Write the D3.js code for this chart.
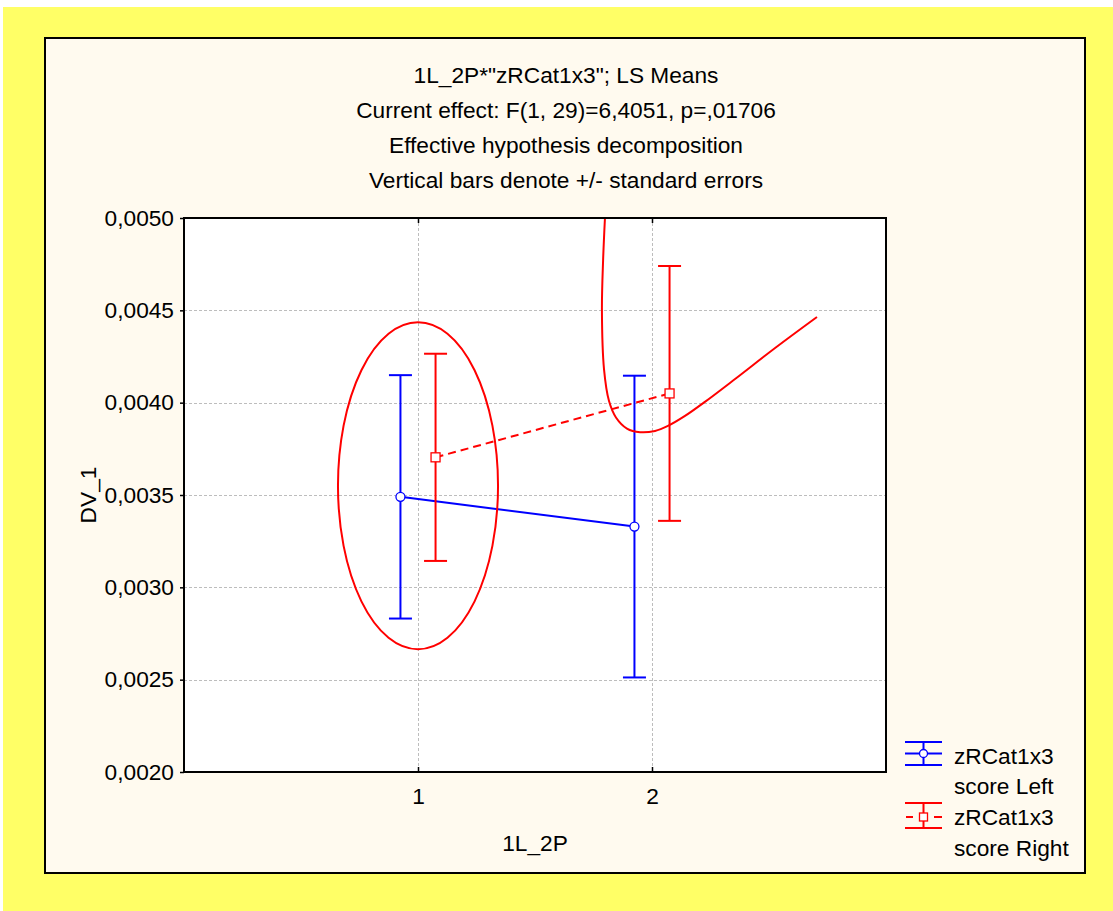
<!DOCTYPE html>
<html>
<head>
<meta charset="utf-8">
<script src="https://cdn.jsdelivr.net/npm/d3@7"></script>
<style>
  body { margin: 0; background: #ffffff; }
  svg text { font-family: Arial, "Liberation Sans", sans-serif; fill: #000; }
</style>
</head>
<body>
<svg id="chart" width="1113" height="911"></svg>

<script>
// ---- data ----
var categories   = [1, 2];
var leftMeans    = [0.003490, 0.003329];
var leftErrors   = [0.000659, 0.000817];
var rightMeans   = [0.003704, 0.004050];
var rightErrors  = [0.000561, 0.000690];
var yTicks       = [0.0020, 0.0025, 0.0030, 0.0035, 0.0040, 0.0045, 0.0050];
var titleLines   = [
  '1L_2P*"zRCat1x3"; LS Means',
  'Current effect: F(1, 29)=6,4051, p=,01706',
  'Effective hypothesis decomposition',
  'Vertical bars denote +/- standard errors'
];
var legendLeft   = ["zRCat1x3", "score Left"];
var legendRight  = ["zRCat1x3", "score Right"];

// hand drawn red marks, in data units
var ringCenter   = [1.0, 0.00355];
var ringRadii    = [0.342, 0.000885];
var hookPoints   = [
  [1.799, 0.00500], [1.791, 0.00477], [1.786, 0.00450], [1.795, 0.00418],
  [1.816, 0.00401], [1.846, 0.00392], [1.893, 0.00386], [1.949, 0.00384],
  [2.013, 0.003847], [2.068, 0.003874], [2.141, 0.003928], [2.226, 0.004004],
  [2.355, 0.004128], [2.526, 0.004296], [2.705, 0.004464]
];

var svg = d3.select("#chart");
var fs = 22.7;

// page frame
svg.append("rect").attr("x", 3).attr("y", 7).attr("width", 1110).attr("height", 904)
   .attr("fill", "#ffff66");
svg.append("rect").attr("x", 45).attr("y", 38).attr("width", 1040).attr("height", 835)
   .attr("fill", "#fffaef").attr("stroke", "#000").attr("stroke-width", 2);

var pLeft = 184, pRight = 886, pTop = 218, pBottom = 772;

var x = d3.scaleLinear().domain([0, 3]).range([pLeft, pRight]);
var y = d3.scaleLinear().domain([0.002, 0.005]).range([pBottom, pTop]);

var fmt = d3.formatLocale({decimal: ",", thousands: ".", grouping: [3], currency: ["", ""]}).format(".4f");

// titles
svg.selectAll("text.title")
  .data(titleLines)
  .enter().append("text")
    .attr("class", "title")
    .attr("x", 566)
    .attr("y", function(d, i) { return 83 + i * 35; })
    .attr("text-anchor", "middle")
    .attr("font-size", fs)
    .text(function(d) { return d; });

// plot background
svg.append("rect").attr("x", pLeft).attr("y", pTop)
   .attr("width", pRight - pLeft).attr("height", pBottom - pTop)
   .attr("fill", "#ffffff");

svg.append("clipPath").attr("id", "plotclip")
  .append("rect").attr("x", pLeft).attr("y", pTop)
   .attr("width", pRight - pLeft).attr("height", pBottom - pTop);

// grid
var grid = svg.append("g").attr("stroke", "#bdbdbd").attr("stroke-width", 1)
   .attr("stroke-dasharray", "3,2");
grid.selectAll("line.h")
  .data(yTicks.slice(1, -1))
  .enter().append("line")
    .attr("x1", pLeft).attr("x2", pRight)
    .attr("y1", function(d) { return Math.round(y(d)) + 0.5; })
    .attr("y2", function(d) { return Math.round(y(d)) + 0.5; });
grid.selectAll("line.v")
  .data(categories)
  .enter().append("line")
    .attr("y1", pTop).attr("y2", pBottom)
    .attr("x1", function(d) { return Math.round(x(d)) + 0.5; })
    .attr("x2", function(d) { return Math.round(x(d)) + 0.5; });

// axes
var yAxis = svg.append("g")
  .attr("transform", "translate(" + pLeft + ",0)")
  .call(d3.axisLeft(y).tickValues(yTicks).tickFormat(fmt).tickSize(4).tickPadding(6));
yAxis.select(".domain").remove();
yAxis.attr("font-size", fs).attr("font-family", null);
yAxis.selectAll("line").attr("stroke-width", 1.5);

var xAxis = svg.append("g")
  .attr("transform", "translate(0," + pBottom + ")")
  .call(d3.axisBottom(x).tickValues(categories).tickFormat(d3.format("d")).tickSize(-5).tickPadding(16));
xAxis.select(".domain").remove();
xAxis.attr("font-size", fs).attr("font-family", null);
xAxis.selectAll("line").attr("stroke-width", 1.5);

var xAxisTop = svg.append("g")
  .attr("transform", "translate(0," + pTop + ")")
  .call(d3.axisTop(x).tickValues(categories).tickFormat("").tickSize(-5));
xAxisTop.select(".domain").remove();
xAxisTop.selectAll("line").attr("stroke-width", 1.5);

svg.append("text")
  .attr("x", (pLeft + pRight) / 2).attr("y", 851)
  .attr("text-anchor", "middle").attr("font-size", fs)
  .text("1L_2P");

svg.append("text")
  .attr("transform", "translate(96," + (pTop + pBottom) / 2 + ") rotate(-90)")
  .attr("text-anchor", "middle").attr("font-size", fs)
  .text("DV_1");

// series
var offset = 0.075;
var capHalf = 11.5;

function drawSeries(means, errors, dx, color, dashed, marker) {
  var pts = categories.map(function(c, i) {
    return {x: c + dx, m: means[i], e: errors[i]};
  });
  var g = svg.append("g");

  g.append("path")
    .datum(pts)
    .attr("fill", "none")
    .attr("stroke", color)
    .attr("stroke-width", 2)
    .attr("stroke-dasharray", dashed ? "8,5" : null)
    .attr("d", d3.line().x(function(d) { return x(d.x); }).y(function(d) { return y(d.m); }));

  var bars = g.selectAll("g.bar").data(pts).enter().append("g")
    .attr("stroke", color).attr("stroke-width", 2);
  bars.append("line")
    .attr("x1", function(d) { return x(d.x); }).attr("x2", function(d) { return x(d.x); })
    .attr("y1", function(d) { return y(d.m + d.e); }).attr("y2", function(d) { return y(d.m - d.e); });
  bars.append("line")
    .attr("x1", function(d) { return x(d.x) - capHalf; }).attr("x2", function(d) { return x(d.x) + capHalf; })
    .attr("y1", function(d) { return y(d.m + d.e); }).attr("y2", function(d) { return y(d.m + d.e); });
  bars.append("line")
    .attr("x1", function(d) { return x(d.x) - capHalf; }).attr("x2", function(d) { return x(d.x) + capHalf; })
    .attr("y1", function(d) { return y(d.m - d.e); }).attr("y2", function(d) { return y(d.m - d.e); });

  if (marker == "circle") {
    g.selectAll("circle").data(pts).enter().append("circle")
      .attr("cx", function(d) { return x(d.x); })
      .attr("cy", function(d) { return y(d.m); })
      .attr("r", 4.5)
      .attr("fill", "#fff").attr("stroke", color).attr("stroke-width", 1.3);
  } else {
    g.selectAll("rect").data(pts).enter().append("rect")
      .attr("x", function(d) { return x(d.x) - 4.5; })
      .attr("y", function(d) { return y(d.m) - 4.5; })
      .attr("width", 9).attr("height", 9)
      .attr("fill", "#fff").attr("stroke", color).attr("stroke-width", 1.3);
  }
}

drawSeries(leftMeans, leftErrors, -offset, "#0000ff", false, "circle");
drawSeries(rightMeans, rightErrors, offset, "#ff0000", true, "square");

// red pen marks
var marks = svg.append("g").attr("clip-path", "url(#plotclip)")
  .attr("fill", "none").attr("stroke", "#ff0000").attr("stroke-width", 2);
marks.append("ellipse")
  .attr("cx", x(ringCenter[0])).attr("cy", y(ringCenter[1]))
  .attr("rx", x(ringRadii[0]) - x(0))
  .attr("ry", y(0.002) - y(0.002 + ringRadii[1]));
marks.append("path")
  .datum(hookPoints)
  .attr("d", d3.line().curve(d3.curveCatmullRom)
    .x(function(d) { return x(d[0]); })
    .y(function(d) { return y(d[1]); }));

// plot border
svg.append("rect").attr("x", pLeft).attr("y", pTop)
   .attr("width", pRight - pLeft).attr("height", pBottom - pTop)
   .attr("fill", "none").attr("stroke", "#000").attr("stroke-width", 2);

// legend
var lg = svg.append("g");
function legendSymbol(cy1, cy2, cyMid, color, marker) {
  var s = lg.append("g").attr("stroke", color).attr("stroke-width", 2);
  s.append("line").attr("x1", 905).attr("x2", 942).attr("y1", cy1).attr("y2", cy1);
  s.append("line").attr("x1", 905).attr("x2", 942).attr("y1", cy2).attr("y2", cy2);
  s.append("line").attr("x1", 923.5).attr("x2", 923.5).attr("y1", cy1).attr("y2", cy2);
  if (marker == "circle") {
    s.append("line").attr("x1", 905).attr("x2", 942).attr("y1", cyMid).attr("y2", cyMid);
    s.append("circle").attr("cx", 923.5).attr("cy", cyMid).attr("r", 4)
      .attr("fill", "#fff").attr("stroke-width", 1.3);
  } else {
    s.append("line").attr("x1", 906).attr("x2", 913).attr("y1", cyMid).attr("y2", cyMid);
    s.append("line").attr("x1", 934).attr("x2", 942).attr("y1", cyMid).attr("y2", cyMid);
    s.append("rect").attr("x", 919.5).attr("y", cyMid - 4).attr("width", 8).attr("height", 8)
      .attr("fill", "#fff").attr("stroke-width", 1.3);
  }
}
legendSymbol(742, 765, 753.5, "#0000ff", "circle");
legendSymbol(803, 828, 817, "#ff0000", "square");

lg.selectAll("text.l1").data(legendLeft).enter().append("text")
  .attr("x", 954).attr("y", function(d, i) { return 764 + i * 30; })
  .attr("font-size", fs).text(function(d) { return d; });
lg.selectAll("text.l2").data(legendRight).enter().append("text")
  .attr("x", 954).attr("y", function(d, i) { return 825 + i * 31; })
  .attr("font-size", fs).text(function(d) { return d; });
</script>
</body>
</html>
